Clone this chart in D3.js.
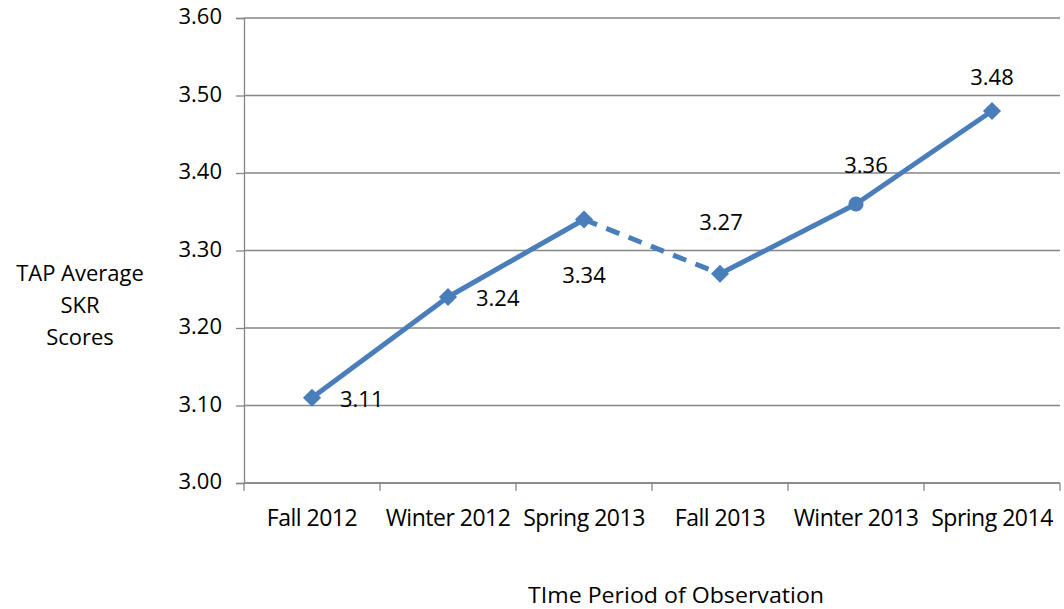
<!DOCTYPE html>
<html>
<head>
<meta charset="utf-8">
<script src="https://cdn.jsdelivr.net/npm/d3@7"></script>
<style>
  body { margin: 0; background: #fff; }
  text { font-family: "Open Sans", "Liberation Sans", sans-serif; fill: #000; }
</style>
</head>
<body>
<svg width="1064" height="609"></svg>
<script>
const periods = ["Fall 2012", "Winter 2012", "Spring 2013", "Fall 2013", "Winter 2013", "Spring 2014"];
const scores = [3.11, 3.24, 3.34, 3.27, 3.36, 3.48];
const yTicks = [3.0, 3.1, 3.2, 3.3, 3.4, 3.5, 3.6];

const svg = d3.select("svg");
const margin = { left: 244, right: 4, top: 18, bottom: 126 };
const width = +svg.attr("width");
const height = +svg.attr("height");
const blue = "#4a7ebb";
const grey = "#868686";

const x = d3.scaleBand().domain(periods).range([margin.left, width - margin.right]);
const y = d3.scaleLinear().domain([3.0, 3.6]).range([height - margin.bottom, margin.top]);

// grid lines
svg.append("g")
  .selectAll("line")
  .data(yTicks)
  .enter().append("line")
  .attr("x1", margin.left)
  .attr("x2", width - margin.right)
  .attr("y1", d => y(d))
  .attr("y2", d => y(d))
  .attr("stroke", grey)
  .attr("stroke-width", 1.3);

// y axis
const yAxis = svg.append("g")
  .attr("transform", `translate(${margin.left},0)`)
  .call(d3.axisLeft(y).tickValues(yTicks).tickFormat(d3.format(".2f")).tickSize(8).tickPadding(14));
yAxis.select(".domain").attr("stroke", grey).attr("stroke-width", 1.3);
yAxis.selectAll(".tick line").attr("stroke", grey).attr("stroke-width", 1.3);
yAxis.selectAll("text")
  .attr("dy", "0.25em")
  .style("font-size", "22px")
  .style("font-family", "Open Sans")
  .attr("fill", "#000");

// x axis
const tickPositions = periods.map(p => x(p)).concat([x.range()[1]]);
const xAxis = svg.append("g").attr("transform", `translate(0,${y(3.0)})`);
xAxis.append("line")
  .attr("x1", margin.left).attr("x2", width - margin.right)
  .attr("stroke", grey).attr("stroke-width", 1.3);
xAxis.selectAll(".tk")
  .data(tickPositions)
  .enter().append("line")
  .attr("x1", d => d).attr("x2", d => d)
  .attr("y1", 0).attr("y2", 8)
  .attr("stroke", grey).attr("stroke-width", 1.3);
xAxis.selectAll(".lbl")
  .data(periods)
  .enter().append("text")
  .attr("x", d => x(d) + x.bandwidth() / 2)
  .attr("y", 43)
  .attr("text-anchor", "middle")
  .style("font-size", "23px")
  .style("letter-spacing", "-0.5px")
  .text(d => d);

// line segments (dashed between Spring 2013 and Fall 2013)
const pts = periods.map((p, i) => ({ p, v: scores[i], cx: x(p) + x.bandwidth() / 2, cy: y(scores[i]) }));
const segs = d3.pairs(pts);
svg.append("g")
  .selectAll("line")
  .data(segs)
  .enter().append("line")
  .attr("x1", d => d[0].cx).attr("y1", d => d[0].cy)
  .attr("x2", d => d[1].cx).attr("y2", d => d[1].cy)
  .attr("stroke", blue)
  .attr("stroke-width", 5)
  .attr("stroke-dasharray", d => d[0].p === "Spring 2013" ? "14,10" : null);

// markers
const diamond = d3.symbol().type(d3.symbolDiamond2).size(210);
const circle = d3.symbol().type(d3.symbolCircle).size(180);
svg.append("g")
  .selectAll("path")
  .data(pts)
  .enter().append("path")
  .attr("transform", d => `translate(${d.cx},${d.cy})`)
  .attr("d", d => d.p === "Winter 2013" ? circle() : diamond())
  .attr("fill", blue);

// data labels
const labelPos = {
  "Fall 2012": [28, 9, "start"],
  "Winter 2012": [28, 9, "start"],
  "Spring 2013": [0, 63, "middle"],
  "Fall 2013": [1, -44, "middle"],
  "Winter 2013": [10, -31, "middle"],
  "Spring 2014": [0, -26, "middle"]
};
svg.append("g")
  .selectAll("text")
  .data(pts)
  .enter().append("text")
  .attr("x", d => d.cx + labelPos[d.p][0])
  .attr("y", d => d.cy + labelPos[d.p][1])
  .attr("text-anchor", d => labelPos[d.p][2])
  .style("font-size", "22px")
  .text(d => d3.format(".2f")(d.v));

// axis titles
svg.append("text")
  .attr("text-anchor", "middle")
  .style("font-size", "22px")
  .selectAll("tspan")
  .data(["TAP Average", "SKR", "Scores"])
  .enter().append("tspan")
  .attr("x", 80)
  .attr("y", (d, i) => 281 + i * 32)
  .text(d => d);

svg.append("text")
  .attr("x", 676)
  .attr("y", 603)
  .attr("text-anchor", "middle")
  .style("font-size", "22px")
  .attr("textLength", 296)
  .attr("lengthAdjust", "spacingAndGlyphs")
  .text("TIme Period of Observation");
</script>
</body>
</html>
